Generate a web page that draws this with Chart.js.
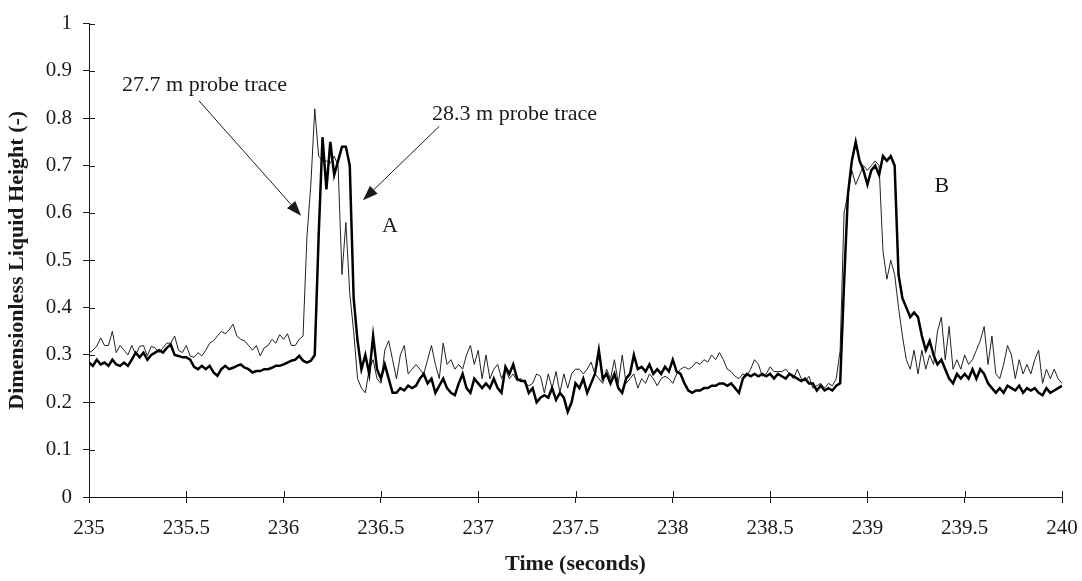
<!DOCTYPE html>
<html>
<head>
<meta charset="utf-8">
<script src="https://cdn.jsdelivr.net/npm/chart.js@4/dist/chart.umd.min.js"></script>
<style>
  html, body { margin: 0; padding: 0; background: #fff; }
  #wrap { width: 1082px; height: 581px; }
</style>
</head>
<body>
<div id="wrap"><canvas id="myChart" width="1082" height="581"></canvas></div>
<script>
// probe traces, sampled every 0.02 s from 235 s to 240 s
var tStart = 235;
var tStep = 0.02;

var probe283 = [
    0.284,0.277,0.29,0.28,0.284,0.277,0.29,0.28,0.277,0.284,
    0.277,0.29,0.305,0.295,0.305,0.29,0.30,0.305,0.31,0.305,
    0.315,0.322,0.30,0.298,0.295,0.295,0.29,0.275,0.27,0.277,
    0.27,0.277,0.263,0.256,0.27,0.277,0.27,0.273,0.277,0.28,
    0.273,0.27,0.263,0.266,0.266,0.27,0.27,0.273,0.277,0.277,
    0.28,0.284,0.288,0.29,0.298,0.288,0.284,0.288,0.30,
    0.55,0.76,0.65,0.75,0.68,0.71,0.74,0.74,0.70,0.42,0.33,0.27,0.30,0.26,0.34,
    0.27,0.25,0.28,0.25,0.22,0.22,0.23,0.225,0.235,0.23,0.235,0.25,0.26,0.24,0.25,0.22,
    0.235,0.25,0.23,0.22,0.215,0.24,0.26,0.23,0.22,0.25,0.24,0.23,0.24,0.23,0.25,0.23,
    0.22,0.275,0.26,0.28,0.25,0.245,0.245,0.22,0.23,0.20,0.21,0.215,0.21,0.23,0.205,0.22,
    0.21,0.18,0.20,0.24,
    0.23,0.25,0.22,0.24,0.26,0.31,0.25,0.26,0.24,0.26,0.23,0.22,0.25,0.26,0.30,0.27,
    0.275,0.265,0.28,0.26,0.27,0.26,0.275,0.265,0.29,0.265,0.26,0.24,0.225,0.22,0.225,0.225,
    0.23,0.23,0.235,0.235,0.24,0.24,0.235,0.24,0.23,0.22,0.25,0.26,0.255,0.26,0.255,0.26,
    0.255,0.26,0.25,0.26,0.255,0.25,0.26,0.255,0.25,0.245,0.25,0.24,0.24,0.225,0.235,0.225,
    0.23,0.225,0.235,
    0.24,0.45,0.64,0.71,0.75,0.71,0.69,0.66,0.69,0.70,0.68,0.72,0.71,0.72,0.70,0.47,
    0.42,0.40,0.38,0.39,0.38,0.34,0.31,0.33,0.30,0.28,0.29,0.27,0.25,0.24,0.26,0.25,
    0.26,0.25,0.27,0.25,0.27,0.26,0.24,0.23,0.22,0.23,0.22,0.235,0.23,0.225,0.235,0.22,
    0.23,0.225,0.23,0.22,0.215,0.23,0.22,0.225,0.23,0.235
];

var probe277 = [
    0.305,0.31,0.319,0.336,0.32,0.32,0.35,0.305,0.32,0.31,
    0.30,0.32,0.30,0.318,0.32,0.298,0.318,0.315,0.305,0.315,
    0.325,0.325,0.34,0.31,0.305,0.32,0.298,0.295,0.305,0.298,
    0.31,0.325,0.33,0.34,0.35,0.345,0.353,0.365,0.34,0.333,
    0.33,0.32,0.31,0.32,0.298,0.315,0.32,0.333,0.325,0.343,
    0.333,0.345,0.32,0.32,0.333,0.34,
    0.55,0.66,0.82,0.72,0.71,0.71,0.705,0.72,0.70,0.47,0.58,0.43,0.35,0.25,0.23,0.22,0.27,0.29,
    0.25,0.24,0.31,0.33,0.29,0.25,0.30,0.32,0.26,0.27,0.28,0.27,0.26,0.29,0.32,0.28,
    0.25,0.325,0.28,0.29,0.27,0.28,0.27,0.30,0.32,0.28,0.31,0.25,0.30,0.25,0.27,0.28,
    0.25,0.27,0.25,0.26,0.245,0.25,0.24,0.235,0.24,0.26,0.255,0.22,0.26,0.23,0.265,0.22,
    0.26,0.23,0.26,0.27,
    0.27,0.26,0.27,0.285,0.26,0.25,0.24,0.27,0.25,0.29,0.24,0.30,0.24,0.25,0.26,0.23,
    0.25,0.24,0.26,0.25,0.235,0.25,0.255,0.25,0.24,0.26,0.27,0.275,0.27,0.275,0.285,0.28,
    0.29,0.285,0.30,0.29,0.305,0.29,0.27,0.265,0.255,0.25,0.26,0.255,0.27,0.29,0.28,0.255,
    0.26,0.275,0.265,0.265,0.265,0.27,0.26,0.25,0.27,0.25,0.245,0.255,0.23,0.235,0.24,0.23,
    0.24,0.235,0.25,
    0.31,0.60,0.64,0.69,0.66,0.68,0.70,0.69,0.70,0.71,0.70,0.52,0.46,0.50,0.47,0.40,
    0.34,0.29,0.27,0.31,0.26,0.31,0.27,0.30,0.28,0.35,0.38,0.29,0.36,0.27,0.29,0.27,
    0.30,0.28,0.29,0.31,0.33,0.36,0.28,0.34,0.26,0.25,0.28,0.32,0.30,0.25,0.29,0.26,
    0.28,0.26,0.29,0.31,0.24,0.27,0.25,0.27,0.25,0.24
];

var xTicks = [235, 235.5, 236, 236.5, 237, 237.5, 238, 238.5, 239, 239.5, 240];
var yTicks = [0, 0.1, 0.2, 0.3, 0.4, 0.5, 0.6, 0.7, 0.8, 0.9, 1];

var serif = "'Liberation Serif', 'Times New Roman', serif";
var ink = '#1a1a1a';

function points(vals) {
    return vals.map((v, i) => ({ x: tStart + i * tStep, y: v }));
}

function arrow(ctx, x1, y1, x2, y2) {
    var a = Math.atan2(y2 - y1, x2 - x1);
    var len = 15, half = 5.5;
    ctx.beginPath();
    ctx.moveTo(x1, y1);
    ctx.lineTo(x2 - len * Math.cos(a), y2 - len * Math.sin(a));
    ctx.stroke();
    ctx.beginPath();
    ctx.moveTo(x2, y2);
    ctx.lineTo(x2 - len * Math.cos(a) + half * Math.sin(a), y2 - len * Math.sin(a) - half * Math.cos(a));
    ctx.lineTo(x2 - len * Math.cos(a) - half * Math.sin(a), y2 - len * Math.sin(a) + half * Math.cos(a));
    ctx.closePath();
    ctx.fill();
}

// ticks that cross the axis, plus the labels and arrows
var overlay = {
    id: 'overlay',
    afterDraw(chart) {
        var ctx = chart.ctx;
        var x = chart.scales.x, y = chart.scales.y;
        ctx.save();
        ctx.strokeStyle = ink;
        ctx.fillStyle = ink;
        ctx.lineWidth = 1;
        yTicks.forEach(v => {
            var py = Math.round(y.getPixelForValue(v)) + 0.5;
            ctx.beginPath(); ctx.moveTo(x.left, py); ctx.lineTo(x.left + 6, py); ctx.stroke();
        });
        xTicks.forEach(v => {
            var px = Math.round(x.getPixelForValue(v)) + 0.5;
            ctx.beginPath(); ctx.moveTo(px, y.bottom); ctx.lineTo(px, y.bottom - 6); ctx.stroke();
        });

        ctx.font = "22px " + serif;
        ctx.textBaseline = 'middle';
        ctx.textAlign = 'left';
        ctx.fillText('27.7 m probe trace', x.getPixelForValue(235.17), y.getPixelForValue(0.87));
        ctx.fillText('28.3 m probe trace', x.getPixelForValue(236.763), y.getPixelForValue(0.808));
        ctx.textAlign = 'center';
        ctx.fillText('A', x.getPixelForValue(236.547), y.getPixelForValue(0.571));
        ctx.fillText('B', x.getPixelForValue(239.383), y.getPixelForValue(0.656));

        arrow(ctx, x.getPixelForValue(235.565), y.getPixelForValue(0.837),
                   x.getPixelForValue(236.09), y.getPixelForValue(0.594));
        arrow(ctx, x.getPixelForValue(236.80), y.getPixelForValue(0.783),
                   x.getPixelForValue(236.408), y.getPixelForValue(0.627));
        ctx.restore();
    }
};

new Chart("myChart", {
    type: "line",
    data: {
        datasets: [{
            label: '28.3 m probe trace',
            data: points(probe283),
            borderColor: '#000',
            borderWidth: 2.5,
            pointRadius: 0,
            tension: 0
        }, {
            label: '27.7 m probe trace',
            data: points(probe277),
            borderColor: '#222',
            borderWidth: 1,
            pointRadius: 0,
            tension: 0
        }]
    },
    options: {
        responsive: false,
        animation: false,
        layout: { padding: { top: 15, right: 0, left: 0, bottom: 0 } },
        plugins: {
            legend: { display: false },
            tooltip: { enabled: false }
        },
        scales: {
            x: {
                type: 'linear',
                min: 235,
                max: 240,
                afterBuildTicks: s => { s.ticks = xTicks.map(v => ({ value: v })); },
                afterFit: s => { s.height = 84; s.paddingRight = 20; },
                ticks: {
                    color: ink,
                    padding: 13,
                    maxRotation: 0,
                    font: { family: serif, size: 21 },
                    callback: v => String(v)
                },
                grid: { drawOnChartArea: false, tickLength: 6, color: ink },
                border: { color: ink, width: 1 },
                title: {
                    display: true,
                    text: 'Time (seconds)',
                    color: ink,
                    font: { family: serif, size: 22, weight: 'bold' },
                    padding: { top: 0, bottom: 3 }
                }
            },
            y: {
                min: 0,
                max: 1,
                afterBuildTicks: s => { s.ticks = yTicks.map(v => ({ value: v })); },
                afterFit: s => { s.width = 89; },
                ticks: {
                    color: ink,
                    padding: 11,
                    font: { family: serif, size: 21 },
                    callback: v => String(+v.toFixed(1))
                },
                grid: { drawOnChartArea: false, tickLength: 6, color: ink },
                border: { color: ink, width: 1 },
                title: {
                    display: true,
                    text: 'Dimensionless Liquid Height (-)',
                    color: ink,
                    font: { family: serif, size: 22, weight: 'bold' },
                    padding: { top: 4, bottom: 0 }
                }
            }
        }
    },
    plugins: [overlay]
});
</script>
</body>
</html>
